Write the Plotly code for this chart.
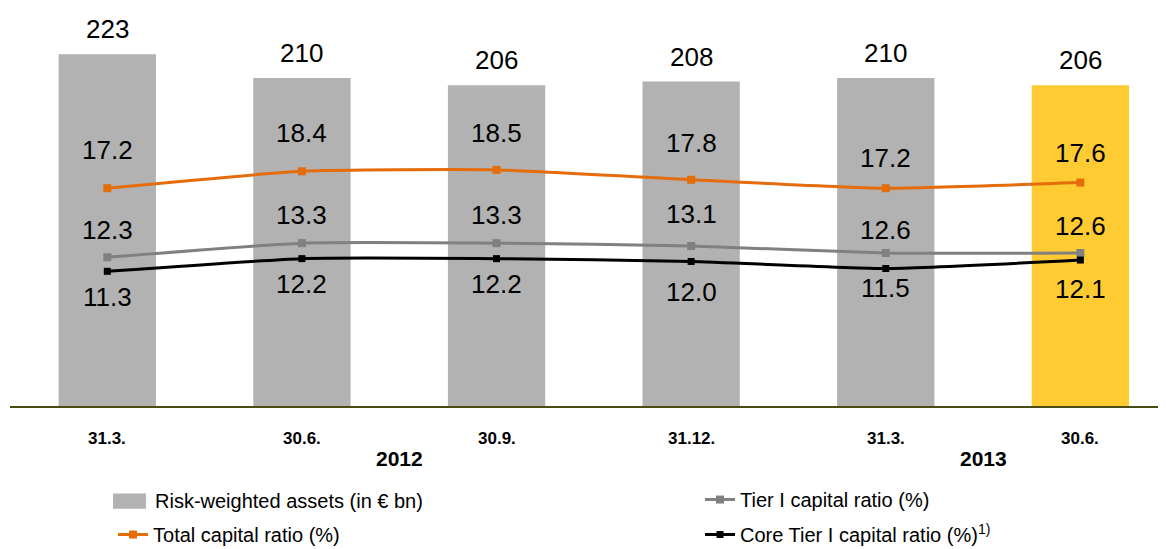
import plotly.graph_objects as go

dates = ["31.3.", "30.6.", "30.9.", "31.12.", "31.3.", "30.6."]
years = ["2012", "2013"]
rwa = [223, 210, 206, 208, 210, 206]
total_ratio = [17.2, 18.4, 18.5, 17.8, 17.2, 17.6]
tier1_ratio = [12.3, 13.3, 13.3, 13.1, 12.6, 12.6]
core_tier1_ratio = [11.3, 12.2, 12.2, 12.0, 11.5, 12.1]

# label nudges in pixels (how far each value label sits from its point)
total_nudge = [38, 38, 37, 37, 30, 30]
tier1_nudge = [27, 28, 28, 32, 23, 27]
core_nudge = [-26, -25, -25, -31, -19, -29]

x = list(range(len(dates)))
font = "Liberation Sans, Arial, sans-serif"
orange = "#e46c0a"
bar_gray = "#b2b2b2"
bar_colors = [bar_gray] * (len(x) - 1) + ["#ffcb33"]

fig = go.Figure()

fig.add_trace(go.Bar(x=x, y=rwa, width=0.5, marker=dict(color=bar_colors, line_width=0),
                     name="Risk-weighted assets (in € bn)", showlegend=False))
fig.add_trace(go.Scatter(x=x, y=total_ratio, yaxis="y2", mode="lines+markers",
                         line=dict(color=orange, width=3, shape="spline", smoothing=0.5),
                         marker=dict(symbol="square", size=8, color=orange),
                         name="Total capital ratio (%)", legend="legend3"))
fig.add_trace(go.Scatter(x=x, y=tier1_ratio, yaxis="y2", mode="lines+markers",
                         line=dict(color="#808080", width=3, shape="spline", smoothing=0.5),
                         marker=dict(symbol="square", size=8, color="#808080"),
                         name="Tier I capital ratio (%)", legend="legend2"))
fig.add_trace(go.Scatter(x=x, y=core_tier1_ratio, yaxis="y2", mode="lines+markers",
                         line=dict(color="#000000", width=3, shape="spline", smoothing=0.5),
                         marker=dict(symbol="square", size=7, color="#000000"),
                         name="Core Tier I capital ratio (%)<sup>1)</sup>", legend="legend4"))

# data labels
annotations = []
lab_font = dict(family=font, size=26, color="#000000")
for i in x:
    annotations.append(dict(x=i, y=rwa[i], yref="y", text=str(rwa[i]), showarrow=False,
                            font=lab_font, yanchor="middle", yshift=25))
    annotations.append(dict(x=i, y=total_ratio[i], yref="y2", text=f"{total_ratio[i]:.1f}",
                            showarrow=False, font=lab_font, yanchor="middle", yshift=total_nudge[i]))
    annotations.append(dict(x=i, y=tier1_ratio[i], yref="y2", text=f"{tier1_ratio[i]:.1f}",
                            showarrow=False, font=lab_font, yanchor="middle", yshift=tier1_nudge[i]))
    annotations.append(dict(x=i, y=core_tier1_ratio[i], yref="y2", text=f"{core_tier1_ratio[i]:.1f}",
                            showarrow=False, font=lab_font, yanchor="middle", yshift=core_nudge[i]))
    # category tick labels
    annotations.append(dict(x=i, y=0, yref="paper", text=f"<b>{dates[i]}</b>", showarrow=False,
                            font=dict(family=font, size=17, color="#000000"),
                            yanchor="middle", yshift=-32))

# year labels
for xpos, yr in zip([1.5, 4.5], years):
    annotations.append(dict(x=xpos, y=0, yref="paper", text=f"<b>{yr}</b>", showarrow=False,
                            font=dict(family=font, size=21, color="#000000"),
                            yanchor="middle", yshift=-52))

# legend entry for the bars (wide swatch like the original)
annotations.append(dict(x=0.1237, y=-0.239, xref="paper", yref="paper", xanchor="left",
                        yanchor="middle", showarrow=False, text="Risk-weighted assets (in € bn)",
                        font=dict(family=font, size=20, color="#000000")))
shapes = [dict(type="rect", xref="paper", yref="paper", x0=0.0891, x1=0.1176,
               y0=-0.2592, y1=-0.2212, fillcolor=bar_gray, line_width=0)]

leg_common = dict(orientation="v", yref="container", yanchor="top", xanchor="left",
                  xref="container", font=dict(family=font, size=20, color="#000000"),
                  bgcolor="rgba(0,0,0,0)")

fig.update_layout(
    width=1158, height=541,
    margin=dict(l=2, r=0, t=2, b=143, autoexpand=False),
    paper_bgcolor="white", plot_bgcolor="white",
    font=dict(family=font, color="#000000"),
    showlegend=True,
    legend2=dict(x=0.5976, y=0.1275, **leg_common),
    legend3=dict(x=0.0907, y=0.0628, **leg_common),
    legend4=dict(x=0.5976, y=0.0628, **leg_common),
    xaxis=dict(range=[-0.5, 5.44], showticklabels=False, showgrid=False, zeroline=False,
               showline=True, linecolor="#4a4a14", linewidth=2, ticks=""),
    yaxis=dict(range=[30, 247.3], visible=False, showgrid=False),
    yaxis2=dict(range=[1.74, 29.85], overlaying="y", visible=False, showgrid=False),
    annotations=annotations,
    shapes=shapes,
)

fig.write_html("out.html")
